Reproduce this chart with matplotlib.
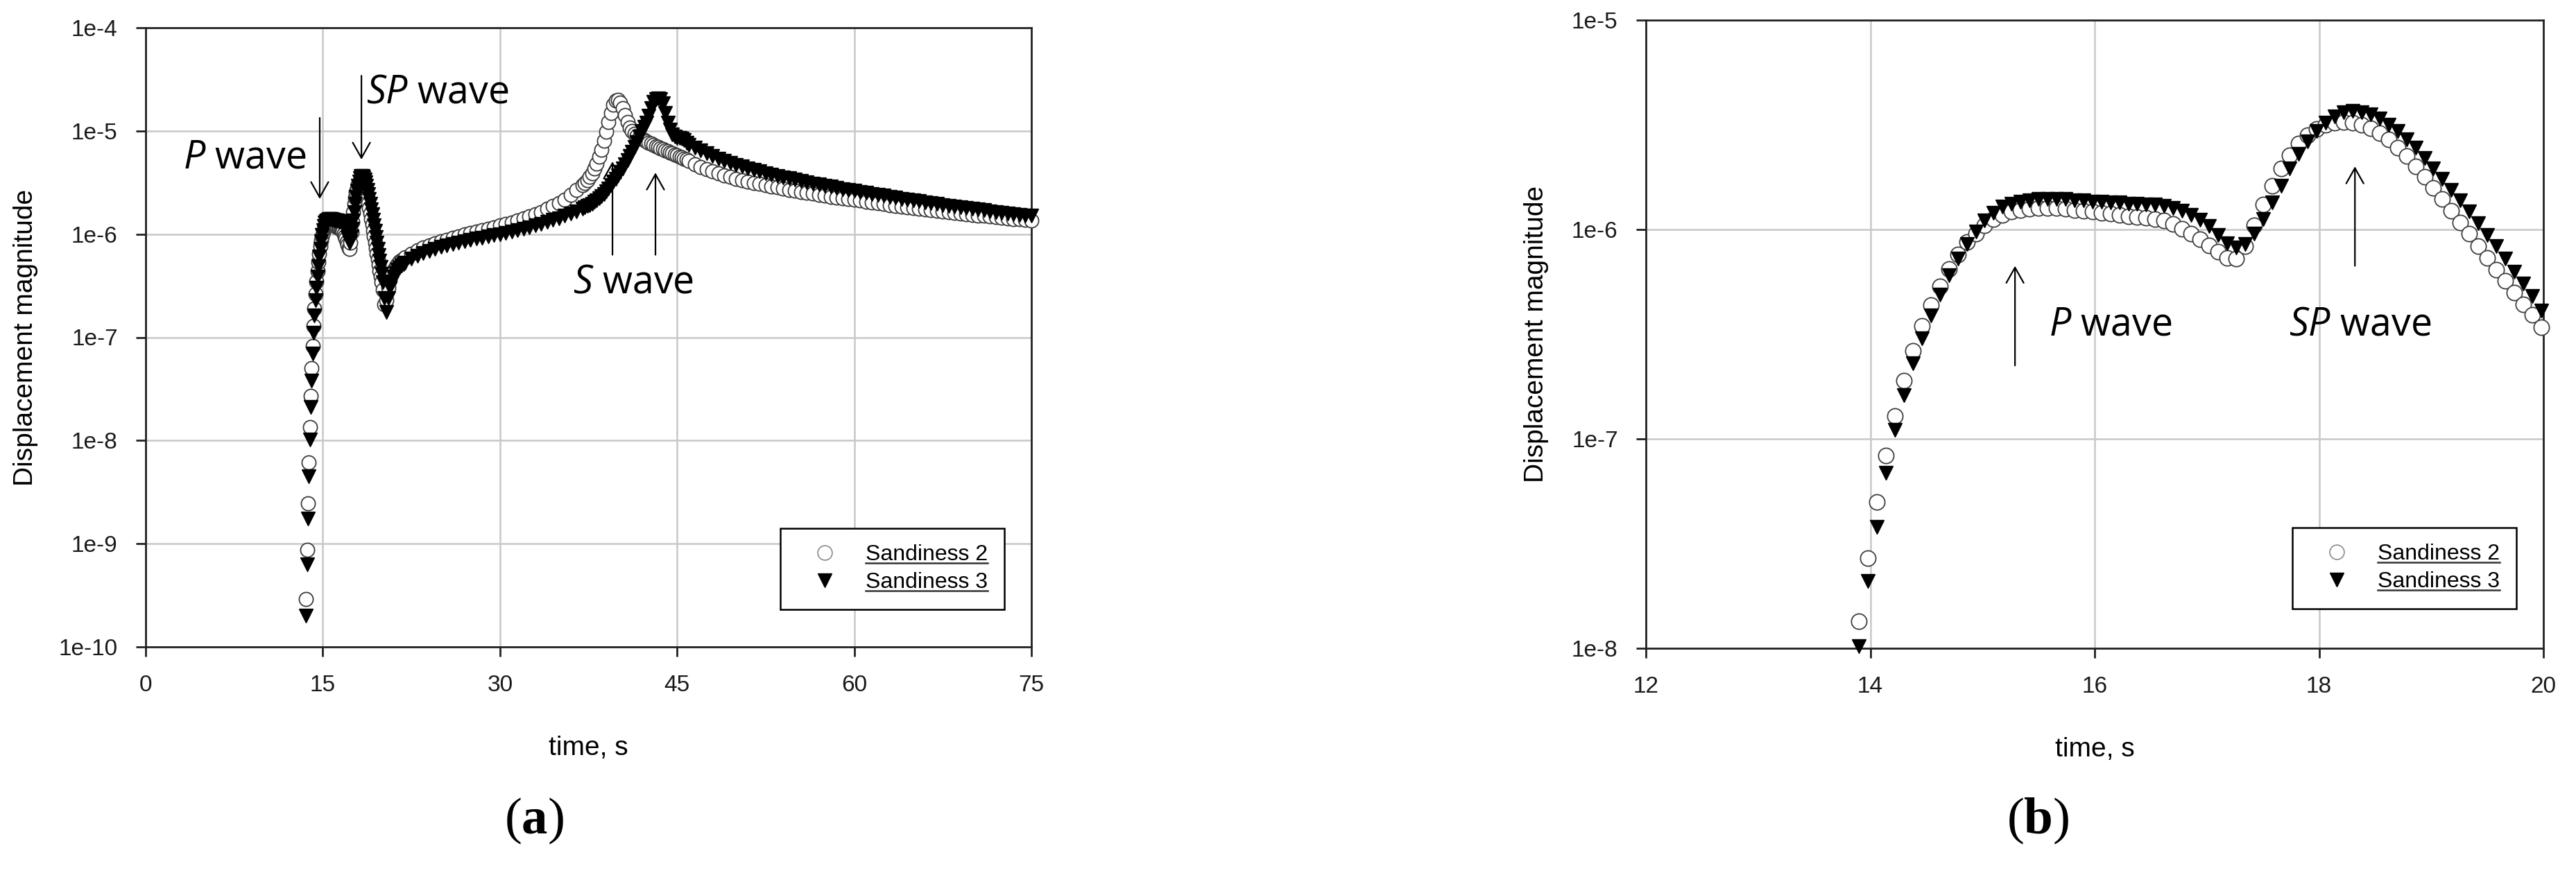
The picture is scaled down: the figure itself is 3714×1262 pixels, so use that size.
import numpy as np
import matplotlib
matplotlib.use("Agg")
import matplotlib.pyplot as plt
from matplotlib.lines import Line2D

plt.rcParams['font.family'] = ['Liberation Sans', 'DejaVu Sans']
plt.rcParams['mathtext.fontset'] = 'custom'
plt.rcParams['mathtext.it'] = 'Open Sans:italic'
plt.rcParams['mathtext.rm'] = 'Open Sans'
plt.rcParams['mathtext.bf'] = 'Liberation Serif:bold'

# ---------------- data ----------------
series_labels = ['Sandiness 2', 'Sandiness 3']

# earliest arrivals (only visible in panel a)
t_early = [13.58, 13.66, 13.74, 13.82]
s2_early = [2.9e-10, 8.7e-10, 2.45e-9, 6.1e-9]
s3_early = [2.0e-10, 6.3e-10, 1.75e-9, 4.5e-9]

# zoomed window 13.90 .. 19.98 s, sampled every 0.08 s (panel b, also part of a)
t_zoom = np.round(np.arange(13.90, 19.99, 0.08), 2)
s2_zoom = [1.35e-8, 2.7e-8, 5.0e-8, 8.3e-8, 1.29e-7, 1.9e-7, 2.63e-7, 3.47e-7, 4.37e-7, 5.37e-7,
           6.46e-7, 7.59e-7, 8.71e-7, 9.55e-7, 1.05e-6, 1.12e-6, 1.17e-6, 1.22e-6, 1.24e-6, 1.26e-6,
           1.27e-6, 1.27e-6, 1.27e-6, 1.26e-6, 1.24e-6, 1.23e-6, 1.22e-6, 1.20e-6, 1.19e-6, 1.17e-6,
           1.16e-6, 1.15e-6, 1.14e-6, 1.12e-6, 1.10e-6, 1.06e-6, 1.01e-6, 9.55e-7, 9.0e-7, 8.4e-7,
           7.85e-7, 7.33e-7, 7.24e-7, 8.32e-7, 1.05e-6, 1.32e-6, 1.62e-6, 1.95e-6, 2.26e-6, 2.57e-6,
           2.82e-6, 3.02e-6, 3.16e-6, 3.24e-6, 3.27e-6, 3.24e-6, 3.16e-6, 3.05e-6, 2.88e-6, 2.69e-6,
           2.45e-6, 2.24e-6, 2.0e-6, 1.78e-6, 1.58e-6, 1.40e-6, 1.23e-6, 1.08e-6, 9.55e-7, 8.3e-7,
           7.3e-7, 6.45e-7, 5.7e-7, 5.0e-7, 4.4e-7, 3.9e-7, 3.4e-7]
s3_zoom = [1.02e-8, 2.1e-8, 3.8e-8, 6.9e-8, 1.10e-7, 1.62e-7, 2.29e-7, 3.02e-7, 3.89e-7, 4.9e-7,
           6.03e-7, 7.24e-7, 8.5e-7, 9.77e-7, 1.10e-6, 1.20e-6, 1.29e-6, 1.33e-6, 1.36e-6, 1.38e-6,
           1.40e-6, 1.40e-6, 1.40e-6, 1.40e-6, 1.38e-6, 1.38e-6, 1.36e-6, 1.36e-6, 1.35e-6, 1.35e-6,
           1.33e-6, 1.33e-6, 1.32e-6, 1.32e-6, 1.30e-6, 1.27e-6, 1.23e-6, 1.17e-6, 1.11e-6, 1.035e-6,
           9.4e-7, 8.6e-7, 8.2e-7, 8.5e-7, 9.55e-7, 1.12e-6, 1.35e-6, 1.62e-6, 1.95e-6, 2.29e-6,
           2.63e-6, 2.95e-6, 3.24e-6, 3.47e-6, 3.63e-6, 3.67e-6, 3.63e-6, 3.55e-6, 3.39e-6, 3.16e-6,
           2.95e-6, 2.69e-6, 2.45e-6, 2.19e-6, 1.95e-6, 1.74e-6, 1.55e-6, 1.38e-6, 1.22e-6, 1.07e-6,
           9.4e-7, 8.3e-7, 7.24e-7, 6.3e-7, 5.5e-7, 4.8e-7, 4.1e-7]

# later part of the record (panel a)
t_b = np.round(np.arange(20.06, 21.99, 0.16), 2)
s2_b = [2.9e-7, 2.1e-7, 2.3e-7, 3.0e-7, 3.6e-7, 4.1e-7, 4.5e-7, 4.85e-7, 5.15e-7, 5.4e-7,
        5.6e-7, 5.8e-7, 6.0e-7]
s3_b = [3.4e-7, 2.4e-7, 1.75e-7, 2.4e-7, 3.0e-7, 3.5e-7, 3.9e-7, 4.2e-7, 4.5e-7, 4.75e-7,
        4.95e-7, 5.15e-7, 5.3e-7]

t_c = np.round(np.arange(22.5, 37.01, 0.5), 2)
s2_c = [6.5e-7, 7.0e-7, 7.4e-7, 7.8e-7, 8.15e-7, 8.5e-7, 8.85e-7, 9.2e-7, 9.55e-7, 9.9e-7,
        1.02e-6, 1.06e-6, 1.1e-6, 1.13e-6, 1.17e-6, 1.21e-6, 1.25e-6, 1.3e-6, 1.35e-6, 1.41e-6,
        1.48e-6, 1.55e-6, 1.64e-6, 1.75e-6, 1.87e-6, 2.0e-6, 2.17e-6, 2.4e-6, 2.68e-6, 3.0e-6]
s3_c = [5.75e-7, 6.2e-7, 6.55e-7, 6.9e-7, 7.2e-7, 7.5e-7, 7.75e-7, 8.0e-7, 8.25e-7, 8.5e-7,
        8.75e-7, 9.0e-7, 9.25e-7, 9.5e-7, 9.75e-7, 1.0e-6, 1.03e-6, 1.06e-6, 1.09e-6, 1.12e-6,
        1.16e-6, 1.21e-6, 1.26e-6, 1.31e-6, 1.37e-6, 1.43e-6, 1.5e-6, 1.58e-6, 1.67e-6, 1.77e-6]

t_d = np.round(np.arange(37.2, 46.01, 0.2), 2)
s2_d = [3.15e-6, 3.35e-6, 3.6e-6, 3.9e-6, 4.3e-6, 4.8e-6, 5.6e-6, 6.6e-6, 8.0e-6, 9.8e-6,
        1.22e-5, 1.5e-5, 1.8e-5, 1.98e-5, 2.0e-5, 1.88e-5, 1.65e-5, 1.42e-5, 1.22e-5, 1.08e-5,
        9.9e-6, 9.4e-6, 9.0e-6, 8.7e-6, 8.45e-6, 8.2e-6, 7.95e-6, 7.7e-6, 7.5e-6, 7.3e-6,
        7.1e-6, 6.95e-6, 6.8e-6, 6.65e-6, 6.5e-6, 6.35e-6, 6.2e-6, 6.05e-6, 5.9e-6, 5.8e-6,
        5.65e-6, 5.5e-6, 5.4e-6, 5.25e-6, 5.1e-6]
s3_d = [1.82e-6, 1.87e-6, 1.92e-6, 1.98e-6, 2.05e-6, 2.13e-6, 2.22e-6, 2.32e-6, 2.45e-6, 2.6e-6,
        2.78e-6, 2.98e-6, 3.2e-6, 3.45e-6, 3.7e-6, 4.0e-6, 4.35e-6, 4.75e-6, 5.2e-6, 5.7e-6,
        6.3e-6, 7.0e-6, 7.8e-6, 8.8e-6, 1.0e-5, 1.1e-5, 1.2e-5, 1.4e-5, 1.65e-5, 1.9e-5,
        2.03e-5, 2.05e-5, 2.03e-5, 1.85e-5, 1.5e-5, 1.2e-5, 1.03e-5, 9.3e-6, 8.8e-6, 8.6e-6,
        8.5e-6, 8.35e-6, 8.1e-6, 7.7e-6, 7.35e-6]

t_e = np.round(np.arange(46.5, 75.01, 0.5), 2)
s2_e = [4.75e-6, 4.45e-6, 4.25e-6, 4.05e-6, 3.88e-6, 3.72e-6, 3.57e-6, 3.44e-6, 3.33e-6, 3.23e-6,
        3.14e-6, 3.06e-6, 2.98e-6, 2.9e-6, 2.83e-6, 2.76e-6, 2.69e-6, 2.63e-6, 2.57e-6, 2.51e-6,
        2.46e-6, 2.41e-6, 2.36e-6, 2.31e-6, 2.27e-6, 2.23e-6, 2.19e-6, 2.15e-6, 2.11e-6, 2.07e-6,
        2.03e-6, 1.99e-6, 1.96e-6, 1.92e-6, 1.89e-6, 1.86e-6, 1.83e-6, 1.8e-6, 1.77e-6, 1.74e-6,
        1.71e-6, 1.69e-6, 1.66e-6, 1.64e-6, 1.61e-6, 1.59e-6, 1.57e-6, 1.54e-6, 1.52e-6, 1.5e-6,
        1.48e-6, 1.46e-6, 1.44e-6, 1.42e-6, 1.4e-6, 1.39e-6, 1.37e-6, 1.35e-6]
s3_e = [6.85e-6, 6.45e-6, 6.05e-6, 5.7e-6, 5.4e-6, 5.13e-6, 4.9e-6, 4.69e-6, 4.5e-6, 4.33e-6,
        4.18e-6, 4.04e-6, 3.91e-6, 3.79e-6, 3.67e-6, 3.56e-6, 3.46e-6, 3.36e-6, 3.27e-6, 3.18e-6,
        3.1e-6, 3.02e-6, 2.95e-6, 2.88e-6, 2.81e-6, 2.74e-6, 2.68e-6, 2.62e-6, 2.56e-6, 2.5e-6,
        2.45e-6, 2.4e-6, 2.35e-6, 2.3e-6, 2.25e-6, 2.2e-6, 2.16e-6, 2.12e-6, 2.08e-6, 2.04e-6,
        2.0e-6, 1.96e-6, 1.92e-6, 1.89e-6, 1.86e-6, 1.82e-6, 1.79e-6, 1.76e-6, 1.73e-6, 1.7e-6,
        1.67e-6, 1.64e-6, 1.61e-6, 1.59e-6, 1.56e-6, 1.54e-6, 1.52e-6, 1.5e-6]

xticks_a = [0, 15, 30, 45, 60, 75]
yticks_a = [1e-10, 1e-9, 1e-8, 1e-7, 1e-6, 1e-5, 1e-4]
yticklabels_a = ['1e-10', '1e-9', '1e-8', '1e-7', '1e-6', '1e-5', '1e-4']
xticks_b = [12, 14, 16, 18, 20]
yticks_b = [1e-8, 1e-7, 1e-6, 1e-5]
yticklabels_b = ['1e-8', '1e-7', '1e-6', '1e-5']

# assemble panel (a) series
tA = np.concatenate([t_early, t_zoom, t_b, t_c, t_d, t_e])
s2A = np.concatenate([s2_early, s2_zoom, s2_b, s2_c, s2_d, s2_e])
s3A = np.concatenate([s3_early, s3_zoom, s3_b, s3_c, s3_d, s3_e])

# ---------------- figure ----------------
W, H = 3714, 1262
fig = plt.figure(figsize=(W / 100, H / 100), dpi=100)
axA = fig.add_axes([210 / W, 1 - 933 / H, 1277 / W, 893 / H])
axB = fig.add_axes([2373 / W, 1 - 935 / H, 1294 / W, 906 / H])


def style(ax):
    ax.set_yscale('log')
    ax.grid(True, which='major', color='#c8c8c8', lw=1.8)
    ax.set_axisbelow(True)
    for s in ax.spines.values():
        s.set_linewidth(2.0)
        s.set_color('#222222')
    ax.minorticks_off()
    ax.tick_params(which='major', direction='out', length=10, width=2,
                   labelsize=24, pad=19, top=False, right=False, colors='#222222')
    ax.tick_params(axis='both', labelcolor='#1a1a1a')


def legend(ax, anchor, ms):
    h2 = Line2D([], [], ls='none', marker='o', ms=ms, mfc='white', mec='#8a8a8a', mew=1.2)
    h3 = Line2D([], [], ls='none', marker='v', ms=ms, color='black')
    leg = ax.legend([h2, h3], series_labels, loc='lower right', bbox_to_anchor=anchor,
                    fontsize=23, frameon=True, fancybox=False, edgecolor='black',
                    framealpha=1, borderpad=0.75, labelspacing=0.3, handlelength=2.5,
                    handletextpad=0.6, borderaxespad=0)
    leg.get_frame().set_linewidth(1.8)
    leg.set_zorder(10)
    return leg


# ---- panel (a)
style(axA)
axA.plot(tA, s2A, ls='none', marker='o', ms=14.5, mfc='white', mec='#3c3c3c', mew=1.3,
         clip_on=False, zorder=3)
axA.plot(tA, s3A, ls='none', marker='v', ms=14.5, color='black', clip_on=False, zorder=4)
axA.set_xlim(0, 75)
axA.set_ylim(1e-10, 1e-4)
axA.set_xticks(xticks_a)
axA.set_yticks(yticks_a)
axA.set_yticklabels(yticklabels_a)
axA.set_xlabel('time, s', fontsize=28)
axA.set_ylabel('Displacement magnitude', fontsize=28)
axA.yaxis.set_label_coords((55 - 210) / 1277, 0.5)
axA.xaxis.set_label_coords(0.5, (933 - 1061) / 893)
legA = legend(axA, ((1448 - 210) / 1277, (933 - 879) / 893), 15)

arrow = dict(arrowstyle='->,head_length=0.8,head_width=0.45', lw=1.6, color='black',
             shrinkA=0, shrinkB=0, mutation_scale=20)
afont = dict(family=['Open Sans', 'DejaVu Sans'], fontsize=40, color='black')
axA.annotate('', xy=(14.74, 2.19e-6), xytext=(14.74, 1.34e-5), arrowprops=arrow)
axA.annotate('', xy=(18.27, 5.28e-6), xytext=(18.27, 3.43e-5), arrowprops=arrow)
axA.annotate('', xy=(39.53, 5.05e-6), xytext=(39.53, 6.3e-7), arrowprops=arrow)
axA.annotate('', xy=(43.17, 3.94e-6), xytext=(43.17, 6.3e-7), arrowprops=arrow)
axA.text(13.6, 5.46e-6, r'$P$ wave', ha='right', va='center', **afont)
axA.text(18.7, 2.33e-5, r'$SP$ wave', ha='left', va='center', **afont)
axA.text(36.2, 3.37e-7, r'$S$ wave', ha='left', va='center', **afont)

# ---- panel (b)
style(axB)
axB.plot(t_zoom, s2_zoom, ls='none', marker='o', ms=16, mfc='white', mec='#404040', mew=1.3,
         clip_on=False, zorder=3)
axB.plot(t_zoom, s3_zoom, ls='none', marker='v', ms=15, color='black', clip_on=False, zorder=4)
axB.set_xlim(12, 20)
axB.set_ylim(1e-8, 1e-5)
axB.set_xticks(xticks_b)
axB.set_yticks(yticks_b)
axB.set_yticklabels(yticklabels_b)
axB.set_xlabel('time, s', fontsize=28)
axB.set_ylabel('Displacement magnitude', fontsize=28)
axB.yaxis.set_label_coords((2233 - 2373) / 1294, 0.5)
axB.xaxis.set_label_coords(0.5, (935 - 1063) / 906)
legB = legend(axB, ((3628 - 2373) / 1294, (935 - 878) / 906), 15)

axB.annotate('', xy=(15.29, 6.7e-7), xytext=(15.29, 2.24e-7), arrowprops=arrow)
axB.annotate('', xy=(18.32, 2.0e-6), xytext=(18.32, 6.7e-7), arrowprops=arrow)
axB.text(15.59, 3.5e-7, r'$P$ wave', ha='left', va='center', **afont)
axB.text(17.73, 3.5e-7, r'$SP$ wave', ha='left', va='center', **afont)

# panel letters
fig.text(770 / W, 1 - 1184 / H, r'($\mathbf{a}$)', ha='center', va='center',
         fontsize=54, family=['Liberation Serif', 'DejaVu Serif'])
fig.text(2938 / W, 1 - 1184 / H, r'($\mathbf{b}$)', ha='center', va='center',
         fontsize=54, family=['Liberation Serif', 'DejaVu Serif'])

# underline legend labels
fig.canvas.draw()
renderer = fig.canvas.get_renderer()
for leg in (legA, legB):
    for txt in leg.get_texts():
        bb = txt.get_window_extent(renderer)
        y = bb.y0 + 3
        fig.add_artist(Line2D([bb.x0 / W, bb.x1 / W], [y / H, y / H], color='#333333',
                              lw=1.8, zorder=20))

fig.savefig('out.png', dpi=100)
